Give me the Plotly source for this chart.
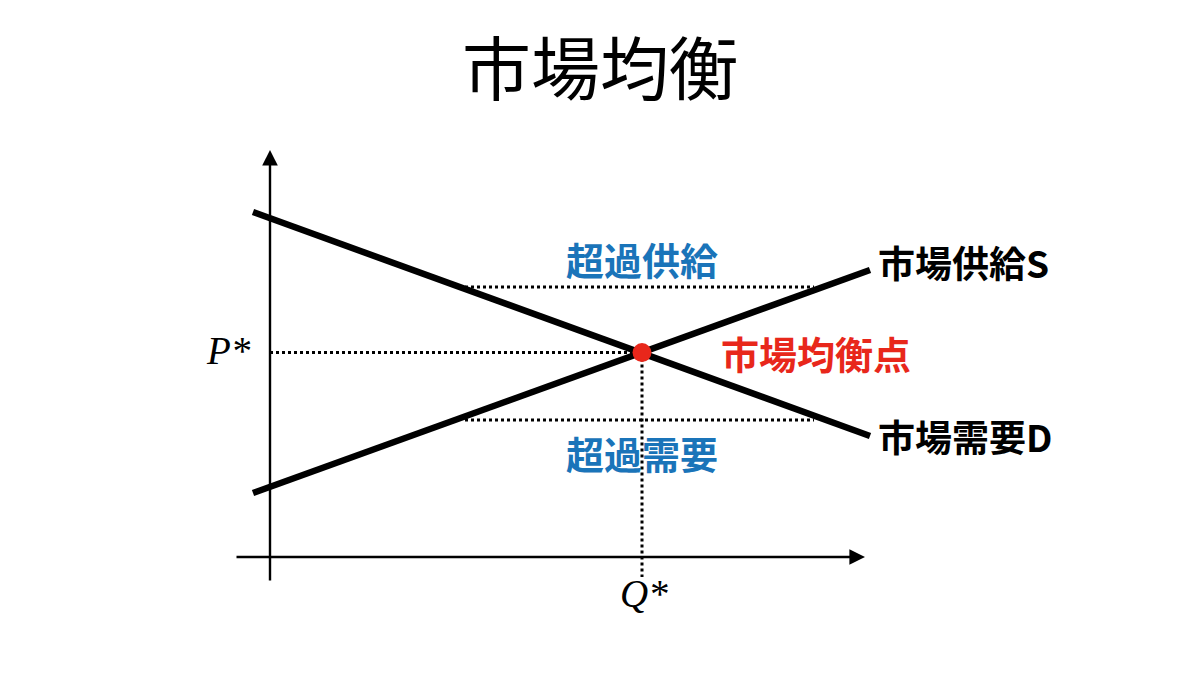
import plotly.graph_objects as go

# ---- data (abstract price/quantity units) ----
title_text = "市場均衡"
curve_q = [-0.425, 15.0]
demand_p = [8.625, 3.025]
supply_p = [1.6, 7.175]
demand_label = "市場需要D"
supply_label = "市場供給S"
eq_q = 9.3
eq_p = 5.11
eq_label = "市場均衡点"
excess_supply_p = 6.75
excess_demand_p = 3.425
gap_q = [4.875, 13.6]
excess_supply_label = "超過供給"
excess_demand_label = "超過需要"
p_label = "P*"
q_label = "Q*"
x_axis_span = [-0.875, 14.875]
y_axis_span = [-0.625, 10.175]

# 40 px per unit; origin at page pixel (270, 557); page has 8px body offset
ORG_X, ORG_Y, U = 262, 549, 40.0


def py(pix):  # reference page pixel row -> data value
    return (557 - pix) / U


def qx(pix):  # reference page pixel column -> data value
    return (pix - 270) / U


fig = go.Figure()

dot_style = dict(color="black", width=3, dash="dot")
fig.add_trace(go.Scatter(x=[0, eq_q], y=[eq_p, eq_p], mode="lines", line=dot_style, hoverinfo="skip"))
fig.add_trace(go.Scatter(x=[eq_q, eq_q], y=[eq_p, -0.5], mode="lines", line=dot_style, hoverinfo="skip"))
fig.add_trace(go.Scatter(x=gap_q, y=[excess_supply_p] * 2, mode="lines", line=dot_style, hoverinfo="skip"))
fig.add_trace(go.Scatter(x=gap_q, y=[excess_demand_p] * 2, mode="lines", line=dot_style, hoverinfo="skip"))

fig.add_trace(go.Scatter(x=curve_q, y=demand_p, mode="lines", line=dict(color="black", width=6.5)))
fig.add_trace(go.Scatter(x=curve_q, y=supply_p, mode="lines", line=dict(color="black", width=6.5)))

fig.add_trace(go.Scatter(x=[eq_q], y=[eq_p], mode="markers",
                         marker=dict(color="#e8271b", size=19, line=dict(width=0))))

ann = []
ann.append(dict(x=0, y=y_axis_span[1], ax=0, ay=y_axis_span[0], xref="x", yref="y", axref="x", ayref="y",
                showarrow=True, arrowhead=2, arrowsize=1.3, arrowwidth=2.4, arrowcolor="black", text=""))
ann.append(dict(x=x_axis_span[1], y=0, ax=x_axis_span[0], ay=0, xref="x", yref="y", axref="x", ayref="y",
                showarrow=True, arrowhead=2, arrowsize=1.3, arrowwidth=2.4, arrowcolor="black", text=""))

cjk = "Noto Sans CJK JP"
blue = "#1a74b9"
red = "#e8271b"

ann.append(dict(x=qx(600), y=py(65), xref="x", yref="y", text=title_text, showarrow=False,
                xanchor="center", yanchor="middle", font=dict(family=cjk, size=69, color="black")))
ann.append(dict(x=qx(876), y=py(262), xref="x", yref="y", text=f"<b>{supply_label}</b>", showarrow=False,
                xanchor="left", yanchor="middle", font=dict(family=cjk, size=37, color="black")))
ann.append(dict(x=qx(876), y=py(436), xref="x", yref="y", text=f"<b>{demand_label}</b>", showarrow=False,
                xanchor="left", yanchor="middle", font=dict(family=cjk, size=37, color="black")))
ann.append(dict(x=qx(719), y=py(352), xref="x", yref="y", text=f"<b>{eq_label}</b>", showarrow=False,
                xanchor="left", yanchor="middle", font=dict(family=cjk, size=38, color=red)))
ann.append(dict(x=qx(642), y=py(258), xref="x", yref="y", text=f"<b>{excess_supply_label}</b>",
                showarrow=False, xanchor="center", yanchor="middle", font=dict(family=cjk, size=38, color=blue)))
ann.append(dict(x=qx(642), y=py(452), xref="x", yref="y", text=f"<b>{excess_demand_label}</b>",
                showarrow=False, xanchor="center", yanchor="middle", font=dict(family=cjk, size=38, color=blue)))
ann.append(dict(x=qx(228), y=py(350), xref="x", yref="y", text=f"<i>{p_label}</i>", showarrow=False,
                xanchor="center", yanchor="middle", font=dict(family="Liberation Serif", size=39, color="black")))
ann.append(dict(x=qx(644), y=py(593), xref="x", yref="y", text=f"<i>{q_label}</i>", showarrow=False,
                xanchor="center", yanchor="middle", font=dict(family="Liberation Serif", size=39, color="black")))

fig.update_layout(
    width=1200, height=673,
    margin=dict(l=0, r=0, t=0, b=0),
    paper_bgcolor="white", plot_bgcolor="white",
    showlegend=False,
    xaxis=dict(range=[-ORG_X / U, (1200 - ORG_X) / U], visible=False, fixedrange=True),
    yaxis=dict(range=[-(673 - ORG_Y) / U, ORG_Y / U], visible=False, fixedrange=True),
    annotations=ann,
)

fig.write_html("out.html")
